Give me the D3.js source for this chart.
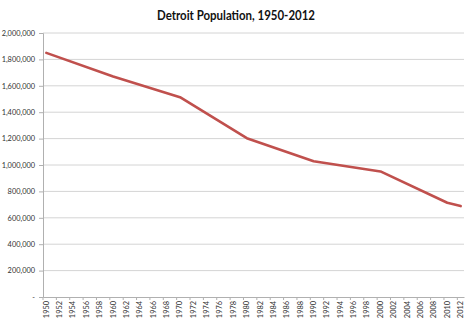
<!DOCTYPE html>
<html>
<head>
<meta charset="utf-8">
<script src="https://cdn.jsdelivr.net/npm/d3@7"></script>
<style>
  html, body { margin: 0; padding: 0; background: #fff; }
  svg { display: block; }
</style>
</head>
<body>
<svg id="chart" width="474" height="322"></svg>
<script>
// Census counts for Detroit, plus the 2012 estimate
const years = [1950, 1960, 1970, 1980, 1990, 2000, 2010, 2012];
const population = [1849568, 1670144, 1514063, 1203339, 1027974, 951270, 713777, 688701];

// Category axis: one slot per year, labelled every other year
const categories = d3.range(1950, 2013);
const xLabels = categories.filter(y => (y - 1950) % 2 === 0);
const yTicks = [0, 200000, 400000, 600000, 800000, 1000000, 1200000, 1400000, 1600000, 1800000, 2000000];

const svg = d3.select("#chart");
const plotLeft = 43, plotRight = 464, plotTop = 33, plotBottom = 297;

const x = d3.scaleBand().domain(categories).range([plotLeft, plotRight]);
const y = d3.scaleLinear().domain([0, 2000000]).range([plotBottom, plotTop]);

const fmt = d3.format(",");
const font = "Lato, 'Open Sans', sans-serif";

// Title
svg.append("text")
  .attr("x", 236).attr("y", 20)
  .attr("text-anchor", "middle")
  .attr("font-family", font)
  .attr("font-weight", "bold")
  .attr("font-size", 13.5)
  .attr("fill", "#111")
  .attr("textLength", 158)
  .attr("lengthAdjust", "spacingAndGlyphs")
  .text("Detroit Population, 1950-2012");

// Horizontal gridlines
svg.append("g")
  .selectAll("line")
  .data(yTicks.filter(d => d > 0))
  .join("line")
  .attr("x1", plotLeft).attr("x2", plotRight)
  .attr("y1", d => y(d)).attr("y2", d => y(d))
  .attr("stroke", "#d4d4d4").attr("stroke-width", 1);

// Value axis
const yAxis = svg.append("g")
  .attr("transform", `translate(${plotLeft},0)`)
  .call(d3.axisLeft(y).tickValues(yTicks).tickSize(4).tickPadding(4)
    .tickFormat(d => d === 0 ? "-" : fmt(d)));
yAxis.select(".domain").attr("stroke", "#b0b0b0");
yAxis.selectAll(".tick line").attr("stroke", "#b0b0b0");
yAxis.selectAll("text")
  .attr("font-family", font)
  .attr("font-size", 7.4)
  .attr("fill", "#333");

// Category axis
const xAxis = svg.append("g")
  .attr("transform", `translate(0,${plotBottom})`)
  .call(d3.axisBottom(x).tickValues(xLabels).tickSize(0).tickPadding(0));
xAxis.select(".domain").attr("stroke", "#b0b0b0");
xAxis.selectAll("text")
  .attr("font-family", font)
  .attr("font-size", 7.4)
  .attr("fill", "#333")
  .attr("text-anchor", "end")
  .attr("dy", "0.32em")
  .attr("transform", "translate(0,4) rotate(-90)");

// Tick marks at category boundaries between labels
svg.append("g")
  .selectAll("line")
  .data(xLabels)
  .join("line")
  .attr("x1", d => x(d)).attr("x2", d => x(d))
  .attr("y1", plotBottom).attr("y2", plotBottom + 3)
  .attr("stroke", "#b0b0b0");

// Population line
const line = d3.line()
  .x((d, i) => x(years[i]) + x.bandwidth() / 2)
  .y(d => y(d));

svg.append("path")
  .datum(population)
  .attr("d", line)
  .attr("fill", "none")
  .attr("stroke", "#c0504d")
  .attr("stroke-width", 2.6)
  .attr("stroke-linejoin", "round")
  .attr("stroke-linecap", "round");
</script>
</body>
</html>
